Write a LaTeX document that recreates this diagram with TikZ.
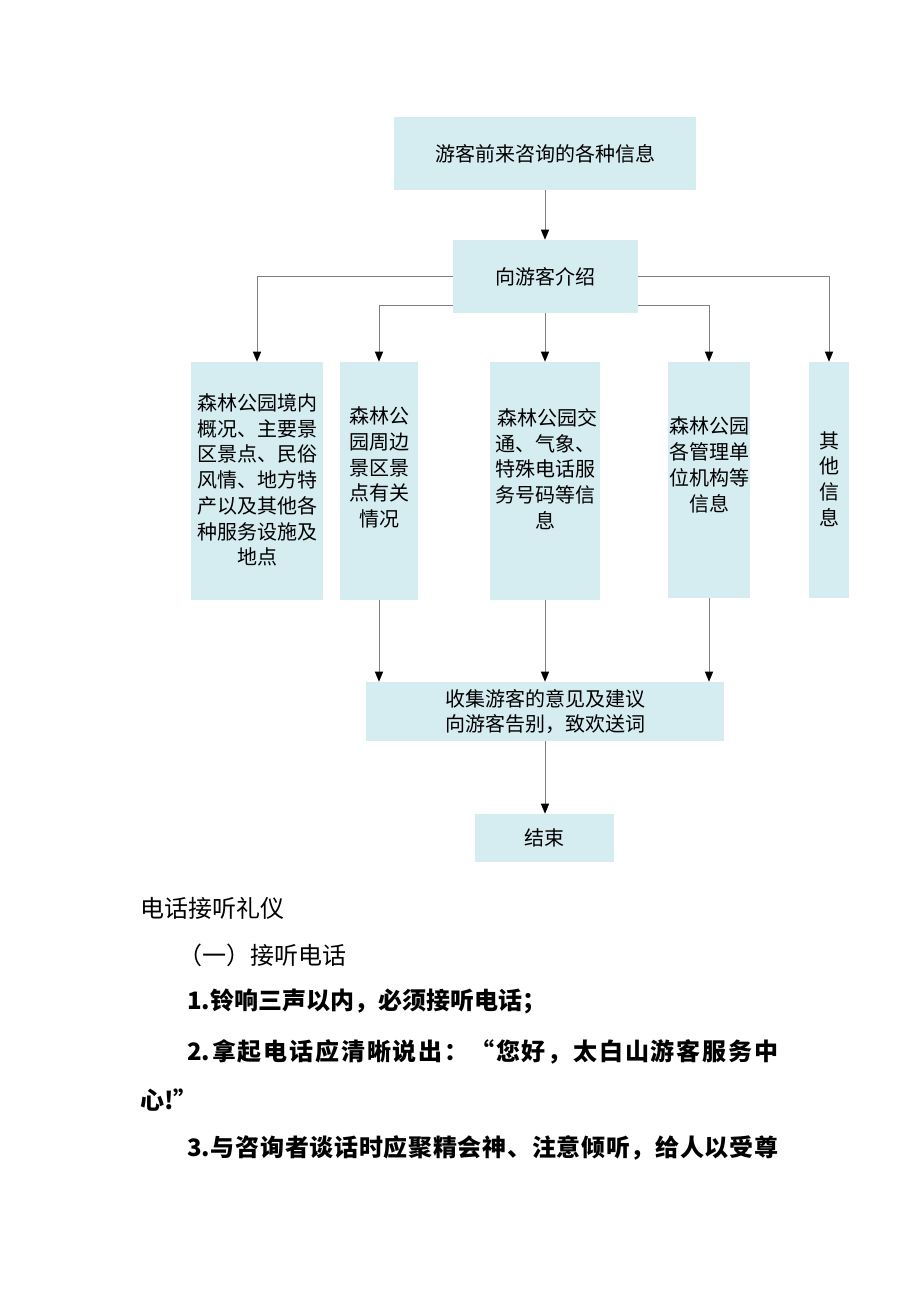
\documentclass[tikz,border=0pt]{standalone}
\usepackage{fontspec}
\newfontfamily\cjk{Noto Sans CJK SC}
\usetikzlibrary{arrows.meta,calc}
\definecolor{boxc}{HTML}{D5ECF0}
\definecolor{linec}{HTML}{808080}
\def\spreadline#1#2{\hbox to #1{\spreadfirst#2\relax}}
\def\spreadfirst#1{#1\spreadrest}
\def\spreadrest#1{\ifx\relax#1\else\hfil#1\expandafter\spreadrest\fi}
\begin{document}
\begin{tikzpicture}[x=0.75pt,y=-0.75pt,
  box/.style={fill=boxc,draw=none,inner sep=0pt,font=\cjk\fontsize{15}{19.3}\selectfont,align=center},
  txt/.style={inner sep=0pt,font=\cjk\fontsize{15}{19.3}\selectfont,align=center},
  body/.style={inner sep=0pt,anchor=west,font=\cjk\fontsize{18}{22}\selectfont},
  bodyb/.style={inner sep=0pt,anchor=west,font=\cjk\bfseries\fontsize{18}{22}\selectfont},
  conn/.style={draw=linec,line width=0.75pt,-{Triangle[length=7.5pt,width=6pt,color=black,fill=black]}},
  plain/.style={draw=linec,line width=0.75pt}]
\useasboundingbox (0,0) rectangle (920,1302);
\fill[white] (0,0) rectangle (920,1302);
% boxes
\node[box,minimum width=226.5pt,minimum height=54.75pt] (A) at (545,153.5) {游客前来咨询的各种信息};
\node[box,minimum width=138.75pt,minimum height=54.75pt] (B) at (545.5,276.5) {向游客介绍};
\node[box,minimum width=99pt,minimum height=178.5pt] (b1) at (257,481) {};
\node[box,minimum width=58.5pt,minimum height=178.5pt] (b2) at (379,481) {};
\node[box,minimum width=82.5pt,minimum height=178.5pt] (b3) at (545,481) {};
\node[box,minimum width=61.5pt,minimum height=177pt] (b4) at (709,480) {};
\node[box,minimum width=30pt,minimum height=177pt] (b5) at (829,480) {};
\node[box,minimum width=268.5pt,minimum height=44.25pt] (C) at (545,711.5) {收集游客的意见及建议\\向游客告别，致欢送词};
\node[box,minimum width=104.25pt,minimum height=36pt] (D) at (544.5,838) {结束};
% box texts
\node[txt] (t1) at (257,480) {森林公园境内\\概况、主要景\\区景点、民俗\\风情、地方特\\产以及其他各\\种服务设施及\\地点};
\node[txt] (t2) at (379,467.5) {森林公\\园周边\\景区景\\点有关\\情况};
\node[txt] (t3) at (545,469) {\ 森林公园交\\通、气象、\\特殊电话服\\务号码等信\\息};
\node[txt] (t4) at (709,465) {森林公园\\各管理单\\位机构等\\信息};
\node[txt] (t5) at (829,479) {其\\他\\信\\息};
% connectors
\draw[conn] (A.south) -- (A.south |- B.north);
\draw[conn] (B.west) -| (b1.north);
\draw[conn] (B.east) -| (b5.north);
\coordinate (bl) at ([yshift=6pt]B.south west);
\coordinate (br) at ([yshift=6pt]B.south east);
\draw[conn] (bl) -| (b2.north);
\draw[conn] (br) -| (b4.north);
\draw[conn] (b3.north |- B.south) -- (b3.north);
\draw[conn] (b2.south) -- (b2.south |- C.north);
\draw[conn] (b3.south) -- (b3.south |- C.north);
\draw[conn] (b4.south) -- (b4.south |- C.north);
\draw[conn] (C.south) -- (C.south |- D.north);
% body text
\node[body] (h1) at (140,908) {电话接听礼仪};
\node[body] (h2) at (178,955) {（一）接听电话};
\node[bodyb] (l1) at (187,1001) {1.铃响三声以内，必须接听电话；};
\node[bodyb] (l2) at (187,1052) {\spreadline{443.25pt}{{2.}拿起电话应清晰说出：“您好，太白山游客服务中}};
\node[bodyb] (l3) at (140,1100) {心!”};
\node[bodyb] (l4) at (187,1148) {\spreadline{443.25pt}{{3.}与咨询者谈话时应聚精会神、注意倾听，给人以受尊}};
\end{tikzpicture}
\end{document}
